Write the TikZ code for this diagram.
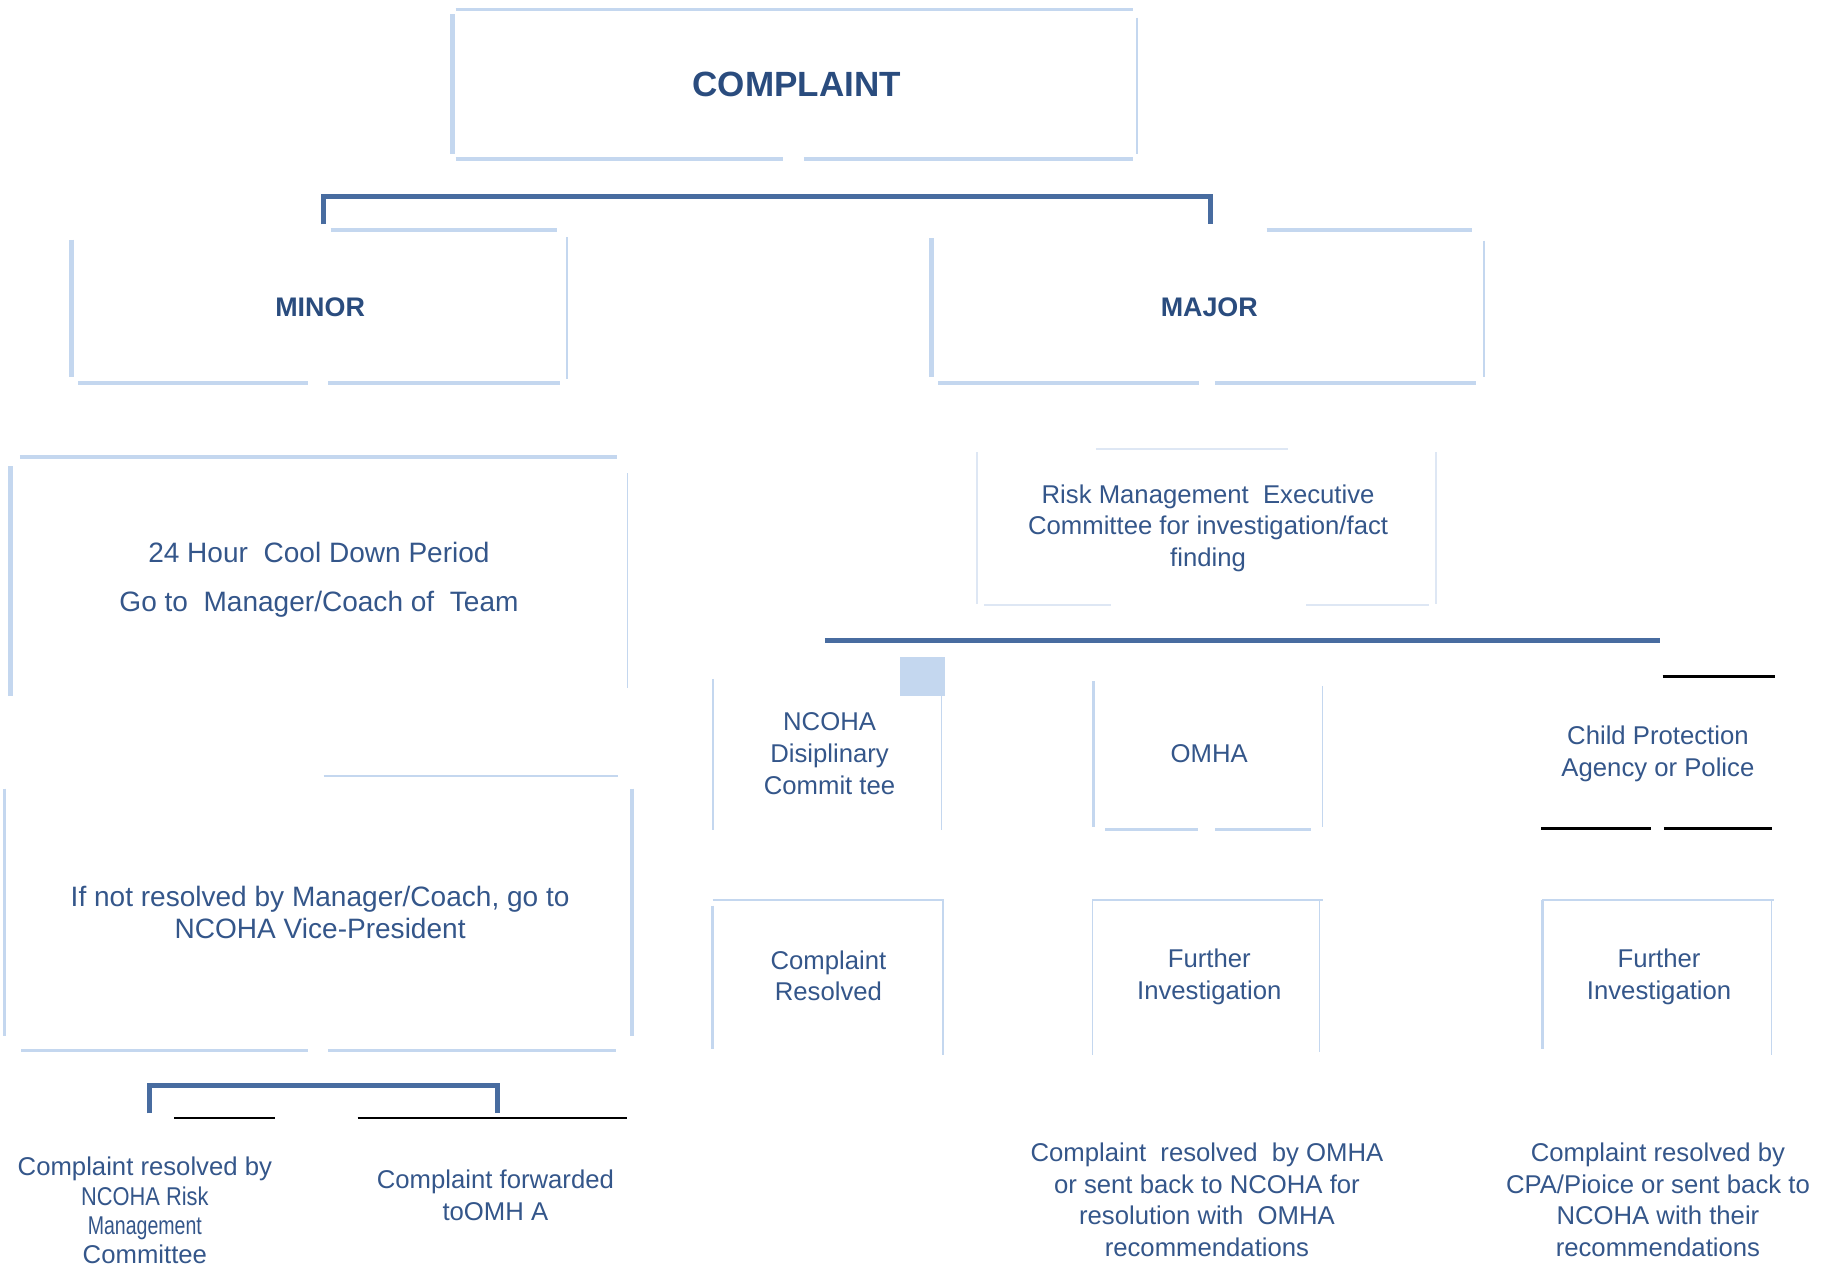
\documentclass[tikz,border=0pt]{standalone}
\usepackage{fontspec}
\setmainfont{Liberation Sans}
\usepackage{xcolor}
\definecolor{headblue}{RGB}{42,76,126}
\definecolor{textblue}{RGB}{52,86,138}
\definecolor{boxblue}{RGB}{196,215,239}
\definecolor{faintblue}{RGB}{222,231,244}
\definecolor{linkblue}{RGB}{72,108,160}

\begin{document}
\begin{tikzpicture}[x=0.5pt,y=-0.5pt]
        \tikzset{edgeline/.style={draw=boxblue, line width=1.5pt}}
        \tikzset{thinedge/.style={draw=boxblue, line width=0.75pt}}
        \tikzset{faintedge/.style={draw=faintblue, line width=0.8pt}}
        \tikzset{linkline/.style={draw=linkblue, line width=2pt}}
        \tikzset{blackrule/.style={draw=black, line width=1pt}}
        \tikzset{headtext/.style={text=headblue, font=\bfseries\fontsize{11.5}{14}\selectfont}}
        \tikzset{txt/.style={text=textblue, align=center, font=\fontsize{11}{13.5}\selectfont}}

        \useasboundingbox (0,0) rectangle (1568,1084);

        % complaint box
        \draw[edgeline] (390,8) -- (970,8);
        \draw[edgeline, line width=2pt] (387,12) -- (387,132);
        \draw[thinedge] (973,15) -- (973,132);
        \draw[edgeline] (390,136) -- (670,136) (688,136) -- (970,136);
        \node[headtext, font=\bfseries\fontsize{15}{18}\selectfont] (complaint) at (682,72) {COMPLAINT};

        % minor / major
        \draw[edgeline] (283,197) -- (477,197);
        \draw[edgeline, line width=2pt] (61,205) -- (61,323);
        \draw[thinedge] (485,203) -- (485,324);
        \draw[edgeline] (67,328) -- (264,328) (281,328) -- (479,328);
        \node[headtext] (minor) at (274,263) {MINOR};

        \draw[edgeline] (1084,197) -- (1260,197);
        \draw[edgeline, line width=2pt] (797,204) -- (797,323);
        \draw[thinedge] (1270,206) -- (1270,323);
        \draw[edgeline] (803,328) -- (1026,328) (1040,328) -- (1263,328);
        \node[headtext] (major) at (1035,263) {MAJOR};

        \coordinate (minortop) at (277,192);
        \coordinate (majortop) at (1036,192);
        \draw[linkline] (minortop) -- ++(0,-24) -- ++(759,0) -- (majortop);

        % minor branch
        \draw[edgeline] (17,391) -- (528,391);
        \draw[edgeline, line width=2pt] (9,399) -- (9,596);
        \draw[thinedge] (537,405) -- (537,589);
        \node[txt, font=\fontsize{12}{21}\selectfont] (cooldown) at (273,496)
            {24 Hour\ \ Cool Down Period\\Go to\ \ Manager/Coach of\ \ Team};

        \draw[thinedge, line width=1pt] (277,664) -- (529,664);
        \draw[edgeline] (4,675) -- (4,887);
        \draw[edgeline] (541,675) -- (541,887);
        \draw[thinedge, line width=1pt] (18,899) -- (264,899) (281,899) -- (527,899);
        \node[txt, font=\fontsize{12}{14}\selectfont] (vicepres) at (274,781)
            {If not resolved by Manager/Coach, go to\\NCOHA Vice-President};

        \coordinate (riskleft) at (128,953);
        \coordinate (riskright) at (426,953);
        \draw[linkline] (riskleft) -- ++(0,-24) -- ++(298,0) -- (riskright);
        \draw[blackrule] (149,957) -- (235,957) (306,957) -- (537,957);

        \node[txt, font=\fontsize{11}{12.5}\selectfont] (riskcomm) at (124,1036)
            {Complaint resolved by\\\scalebox{0.85}[1]{NCOHA Risk}\\\scalebox{0.76}[1]{Management}\\Committee};
        \node[txt] (forward) at (424,1023) {Complaint forwarded\\toOMH\ A};

        % major branch
        \draw[faintedge] (938,384) -- (1102,384);
        \draw[faintedge] (836,387) -- (836,517);
        \draw[faintedge] (1229,387) -- (1229,517);
        \draw[faintedge] (842,518) -- (951,518) (1118,518) -- (1223,518);
        \node[txt] (riskexec) at (1034,452)
            {Risk Management\ \ Executive\\Committee for investigation/fact\\finding};

        \coordinate (barleft) at (706,548);
        \coordinate (barright) at (1421,548);
        \draw[linkline] (barleft) -- (barright);

        \fill[boxblue] (770,562) rectangle (809,596);
        \draw[thinedge] (610,581) -- (610,710);
        \draw[thinedge, line width=0.5pt] (806,596) -- (806,710);
        \node[txt] (disc) at (710,645) {NCOHA\\Disiplinary\\Commit tee};

        \draw[thinedge, line width=1.2pt] (936,583) -- (936,708);
        \draw[thinedge] (1132,587) -- (1132,708);
        \draw[edgeline] (946,710) -- (1025,710) (1040,710) -- (1122,710);
        \node[txt] (omha) at (1035,645) {OMHA};

        \draw[blackrule] (1423,579) -- (1519,579);
        \draw[blackrule, line width=1.2pt] (1319,709) -- (1413,709) (1424,709) -- (1517,709);
        \node[txt] (cpa) at (1419,645) {Child Protection\\Agency or\ Police};

        % outcomes
        \draw[thinedge] (610,770) -- (808,770);
        \draw[thinedge, line width=1.2pt] (610,775) -- (610,898);
        \draw[thinedge] (807,770) -- (807,903);
        \node[txt] (resolved) at (709,835) {Complaint\\Resolved};

        \draw[thinedge] (935,770) -- (1132,770);
        \draw[thinedge] (935,770) -- (935,903);
        \draw[thinedge, line width=0.5pt] (1129,770) -- (1129,900);
        \node[txt] (furthera) at (1035,836) {Further\\Investigation};

        \draw[thinedge] (1320,770) -- (1518,770);
        \draw[thinedge, line width=1.2pt] (1320,770) -- (1320,898);
        \draw[thinedge, line width=0.5pt] (1516,770) -- (1516,903);
        \node[txt] (furtherb) at (1420,836) {Further\\Investigation};

        \node[txt] (omhaout) at (1033,1027)
            {Complaint\ \ resolved\ \ by OMHA\\or sent back to\ NCOHA for\\resolution with\ \ OMHA\\recommendations};
        \node[txt] (cpaout) at (1419,1027)
            {Complaint resolved\ by\\CPA/Pioice or\ sent back to\\NCOHA with\ their\\recommendations};
    \end{tikzpicture}
\end{document}
